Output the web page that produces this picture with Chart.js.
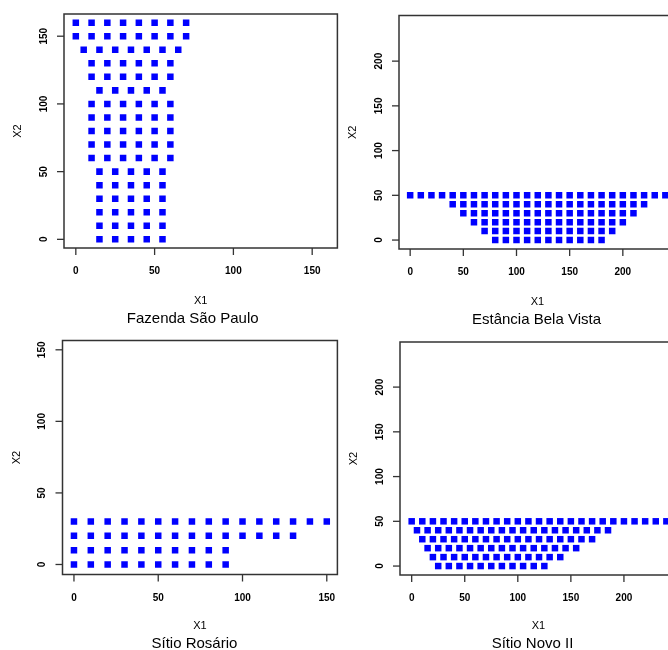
<!DOCTYPE html>
<html>
<head>
<meta charset="utf-8">
<script src="https://cdn.jsdelivr.net/npm/chart.js@4"></script>
<style>
  body { margin: 0; background: #fff; overflow: hidden; }
  #grid { position: relative; width: 668px; height: 650px; overflow: hidden; }
  #grid canvas { position: absolute; }
</style>
</head>
<body>
<div id="grid">
  <canvas id="saoPaulo" width="342" height="330" style="left:0;top:0"></canvas>
  <canvas id="belaVista" width="348" height="330" style="left:342px;top:0"></canvas>
  <canvas id="rosario" width="342" height="320" style="left:0;top:330px"></canvas>
  <canvas id="novo" width="348" height="320" style="left:342px;top:330px"></canvas>
</div>
<script>
// Fazenda São Paulo: one x list per X2 level
const saoPauloLevels = [160, 150, 140, 130, 120, 110, 100, 90, 80, 70, 60, 50, 40, 30, 20, 10, 0];
const saoPauloX = [
  [0, 10, 20, 30, 40, 50, 60, 70],
  [0, 10, 20, 30, 40, 50, 60, 70],
  [5, 15, 25, 35, 45, 55, 65],
  [10, 20, 30, 40, 50, 60],
  [10, 20, 30, 40, 50, 60],
  [15, 25, 35, 45, 55],
  [10, 20, 30, 40, 50, 60],
  [10, 20, 30, 40, 50, 60],
  [10, 20, 30, 40, 50, 60],
  [10, 20, 30, 40, 50, 60],
  [10, 20, 30, 40, 50, 60],
  [15, 25, 35, 45, 55],
  [15, 25, 35, 45, 55],
  [15, 25, 35, 45, 55],
  [15, 25, 35, 45, 55],
  [15, 25, 35, 45, 55],
  [15, 25, 35, 45, 55]
];

// Estância Bela Vista
const belaVistaLevels = [50, 40, 30, 20, 10, 0];
const belaVistaX = [
  [0, 10, 20, 30, 40, 50, 60, 70, 80, 90, 100, 110, 120, 130, 140, 150, 160, 170, 180, 190, 200, 210, 220, 230, 240],
  [40, 50, 60, 70, 80, 90, 100, 110, 120, 130, 140, 150, 160, 170, 180, 190, 200, 210, 220],
  [50, 60, 70, 80, 90, 100, 110, 120, 130, 140, 150, 160, 170, 180, 190, 200, 210],
  [60, 70, 80, 90, 100, 110, 120, 130, 140, 150, 160, 170, 180, 190, 200],
  [70, 80, 90, 100, 110, 120, 130, 140, 150, 160, 170, 180, 190],
  [80, 90, 100, 110, 120, 130, 140, 150, 160, 170, 180]
];

// Sítio Rosário
const rosarioLevels = [30, 20, 10, 0];
const rosarioX = [
  [0, 10, 20, 30, 40, 50, 60, 70, 80, 90, 100, 110, 120, 130, 140, 150],
  [0, 10, 20, 30, 40, 50, 60, 70, 80, 90, 100, 110, 120, 130],
  [0, 10, 20, 30, 40, 50, 60, 70, 80, 90],
  [0, 10, 20, 30, 40, 50, 60, 70, 80, 90]
];

// Sítio Novo II
const novoLevels = [50, 40, 30, 20, 10, 0];
const novoX = [
  [0, 10, 20, 30, 40, 50, 60, 70, 80, 90, 100, 110, 120, 130, 140, 150, 160, 170, 180, 190, 200, 210, 220, 230, 240],
  [5, 15, 25, 35, 45, 55, 65, 75, 85, 95, 105, 115, 125, 135, 145, 155, 165, 175, 185],
  [10, 20, 30, 40, 50, 60, 70, 80, 90, 100, 110, 120, 130, 140, 150, 160, 170],
  [15, 25, 35, 45, 55, 65, 75, 85, 95, 105, 115, 125, 135, 145, 155],
  [20, 30, 40, 50, 60, 70, 80, 90, 100, 110, 120, 130, 140],
  [25, 35, 45, 55, 65, 75, 85, 95, 105, 115, 125]
];

// tick labels
const ticksTo150 = [0, 50, 100, 150];
const ticksTo200 = [0, 50, 100, 150, 200];

const labelFont = '"Liberation Sans", Arial, sans-serif';

function toPoints(levels, xs) {
  return levels.flatMap((level, i) => xs[i].map((x) => ({ x: x, y: level })));
}

// box, outward ticks, rotated y labels and titles in the old R base-graphics look
const rStyleAxes = {
  id: 'rStyleAxes',
  afterDraw(chart, args, opts) {
    const { ctx, chartArea: a, scales: { x, y } } = chart;
    const midX = (a.left + a.right) / 2;
    const midY = (a.top + a.bottom) / 2;
    ctx.save();
    ctx.strokeStyle = '#333';
    ctx.fillStyle = '#000';
    ctx.lineWidth = 1.5;
    ctx.strokeRect(a.left, a.top, a.right - a.left, a.bottom - a.top);

    ctx.lineWidth = 1.3;
    ctx.font = 'bold 10px ' + labelFont;
    ctx.textAlign = 'center';
    ctx.textBaseline = 'middle';
    opts.xTicks.forEach((v) => {
      const px = x.getPixelForValue(v);
      ctx.beginPath();
      ctx.moveTo(px, a.bottom);
      ctx.lineTo(px, a.bottom + 7);
      ctx.stroke();
      ctx.fillText(String(v), px, a.bottom + 23.5);
    });
    opts.yTicks.forEach((v) => {
      const py = y.getPixelForValue(v);
      ctx.beginPath();
      ctx.moveTo(a.left - 7, py);
      ctx.lineTo(a.left, py);
      ctx.stroke();
      ctx.save();
      ctx.translate(a.left - 20, py);
      ctx.rotate(-Math.PI / 2);
      ctx.fillText(String(v), 0, 0);
      ctx.restore();
    });

    ctx.font = '11px ' + labelFont;
    ctx.fillText(opts.xTitle, midX, a.bottom + opts.below[0]);
    ctx.save();
    ctx.translate(a.left - 46, midY);
    ctx.rotate(-Math.PI / 2);
    ctx.fillText(opts.yTitle, 0, 0);
    ctx.restore();

    ctx.font = '15px ' + labelFont;
    ctx.fillText(opts.subtitle, midX + opts.subtitleShift, a.bottom + opts.below[1]);
    ctx.restore();
  }
};

function renderPanel(canvasId, points, subtitle, xRange, yRange, xTicks, yTicks, padding, below, subtitleShift) {
  const ctx = document.getElementById(canvasId).getContext('2d');
  return new Chart(ctx, {
    type: 'scatter',
    data: {
      datasets: [{
        data: points,
        pointStyle: 'rect',
        pointRadius: 4.6,
        pointHoverRadius: 4.6,
        pointBorderWidth: 0,
        backgroundColor: '#0000ff',
        borderColor: '#0000ff'
      }]
    },
    options: {
      responsive: false,
      animation: false,
      devicePixelRatio: 1,
      events: [],
      layout: { padding: padding },
      scales: {
        x: { type: 'linear', display: false, min: xRange[0], max: xRange[1] },
        y: { type: 'linear', display: false, min: yRange[0], max: yRange[1] }
      },
      plugins: {
        legend: { display: false },
        tooltip: { enabled: false },
        rStyleAxes: {
          xTicks: xTicks, yTicks: yTicks, xTitle: 'X1', yTitle: 'X2',
          subtitle: subtitle, below: below, subtitleShift: subtitleShift
        }
      }
    },
    plugins: [rStyleAxes]
  });
}

renderPanel('saoPaulo', toPoints(saoPauloLevels, saoPauloX), 'Fazenda São Paulo',
  [-7.5, 166], [-6.4, 166.4], ticksTo150, ticksTo150,
  { left: 64, top: 14, right: 1.5, bottom: 82 }, [53, 70.5], -8);

renderPanel('belaVista', toPoints(belaVistaLevels, belaVistaX), 'Estância Bela Vista',
  [-10.5, 250], [-10, 251], ticksTo200, ticksTo200,
  { left: 57, top: 15.5, right: 14, bottom: 81 }, [53, 70.5], -1);

renderPanel('rosario', toPoints(rosarioLevels, rosarioX), 'Sítio Rosário',
  [-6.8, 156.3], [-7, 156.5], ticksTo150, ticksTo150,
  { left: 62.5, top: 10.5, right: 3, bottom: 75.5 }, [51, 69], -5.5);

renderPanel('novo', toPoints(novoLevels, novoX), 'Sítio Novo II',
  [-11, 250], [-10, 250.4], ticksTo200, ticksTo200,
  { left: 58, top: 12, right: 13, bottom: 75 }, [50.5, 68.5], -6);
</script>
</body>
</html>
